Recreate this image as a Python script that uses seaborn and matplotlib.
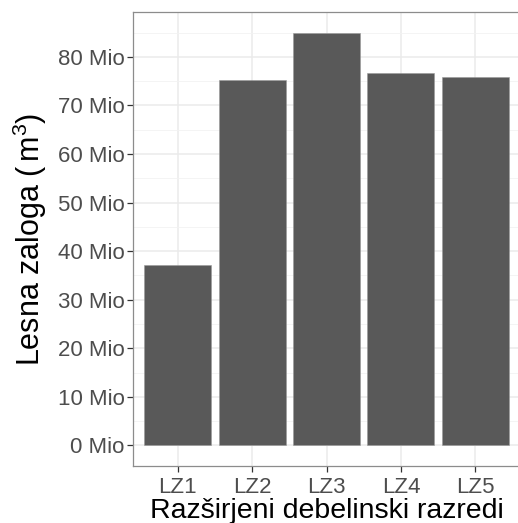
import pandas as pd
import seaborn as sns
import matplotlib.pyplot as plt
from matplotlib.ticker import MultipleLocator, FuncFormatter

# podatki (mio m3)
razredi = ['LZ1', 'LZ2', 'LZ3', 'LZ4', 'LZ5']
zaloga = [37.1, 75.3, 85.0, 76.7, 75.8]

df = pd.DataFrame({'razred': razredi, 'zaloga': zaloga})

sns.set_style('white')
plt.rcParams['font.family'] = ['Liberation Sans', 'DejaVu Sans']
plt.rcParams['mathtext.fontset'] = 'custom'
plt.rcParams['mathtext.rm'] = 'Liberation Sans'
plt.rcParams['mathtext.it'] = 'Liberation Sans'

fig = plt.figure(figsize=(5.18, 5.23), dpi=100)
ax = fig.add_axes([133 / 518, 1 - 466 / 523, 387 / 518, 454 / 523])

sns.barplot(data=df, x='razred', y='zaloga', color='#595959', saturation=1,
            width=0.9, edgecolor='#9a9a9a', linewidth=0.4, ax=ax, zorder=3)

ax.set_xlim(-0.6, 4.6)
ax.set_ylim(-4.25, 89.25)
ax.yaxis.set_major_locator(MultipleLocator(10))
ax.yaxis.set_minor_locator(MultipleLocator(5))
ax.yaxis.set_major_formatter(FuncFormatter(lambda v, p: f'{v:.0f} Mio'))

ax.grid(True, which='major', color='#EBEBEB', linewidth=1.1, zorder=0)
ax.grid(True, which='minor', axis='y', color='#F2F2F2', linewidth=0.6, zorder=0)
ax.set_axisbelow(True)
for s in ax.spines.values():
    s.set_color('#8c8c8c')
    s.set_linewidth(0.9)

ax.tick_params(axis='both', which='major', length=4, width=0.9, color='#333333',
               labelsize=16, labelcolor='#4D4D4D', pad=2, left=True, bottom=True)
ax.tick_params(axis='x', which='major', pad=4)
ax.tick_params(axis='y', which='minor', length=0)

ax.set_xlabel('Razširjeni debelinski razredi', fontsize=20.5, color='black', labelpad=0)
ax.set_ylabel(r'Lesna zaloga ($\,$m$^{3}$)', fontsize=22, color='black', labelpad=6)

fig.savefig('out.png', dpi=100)
